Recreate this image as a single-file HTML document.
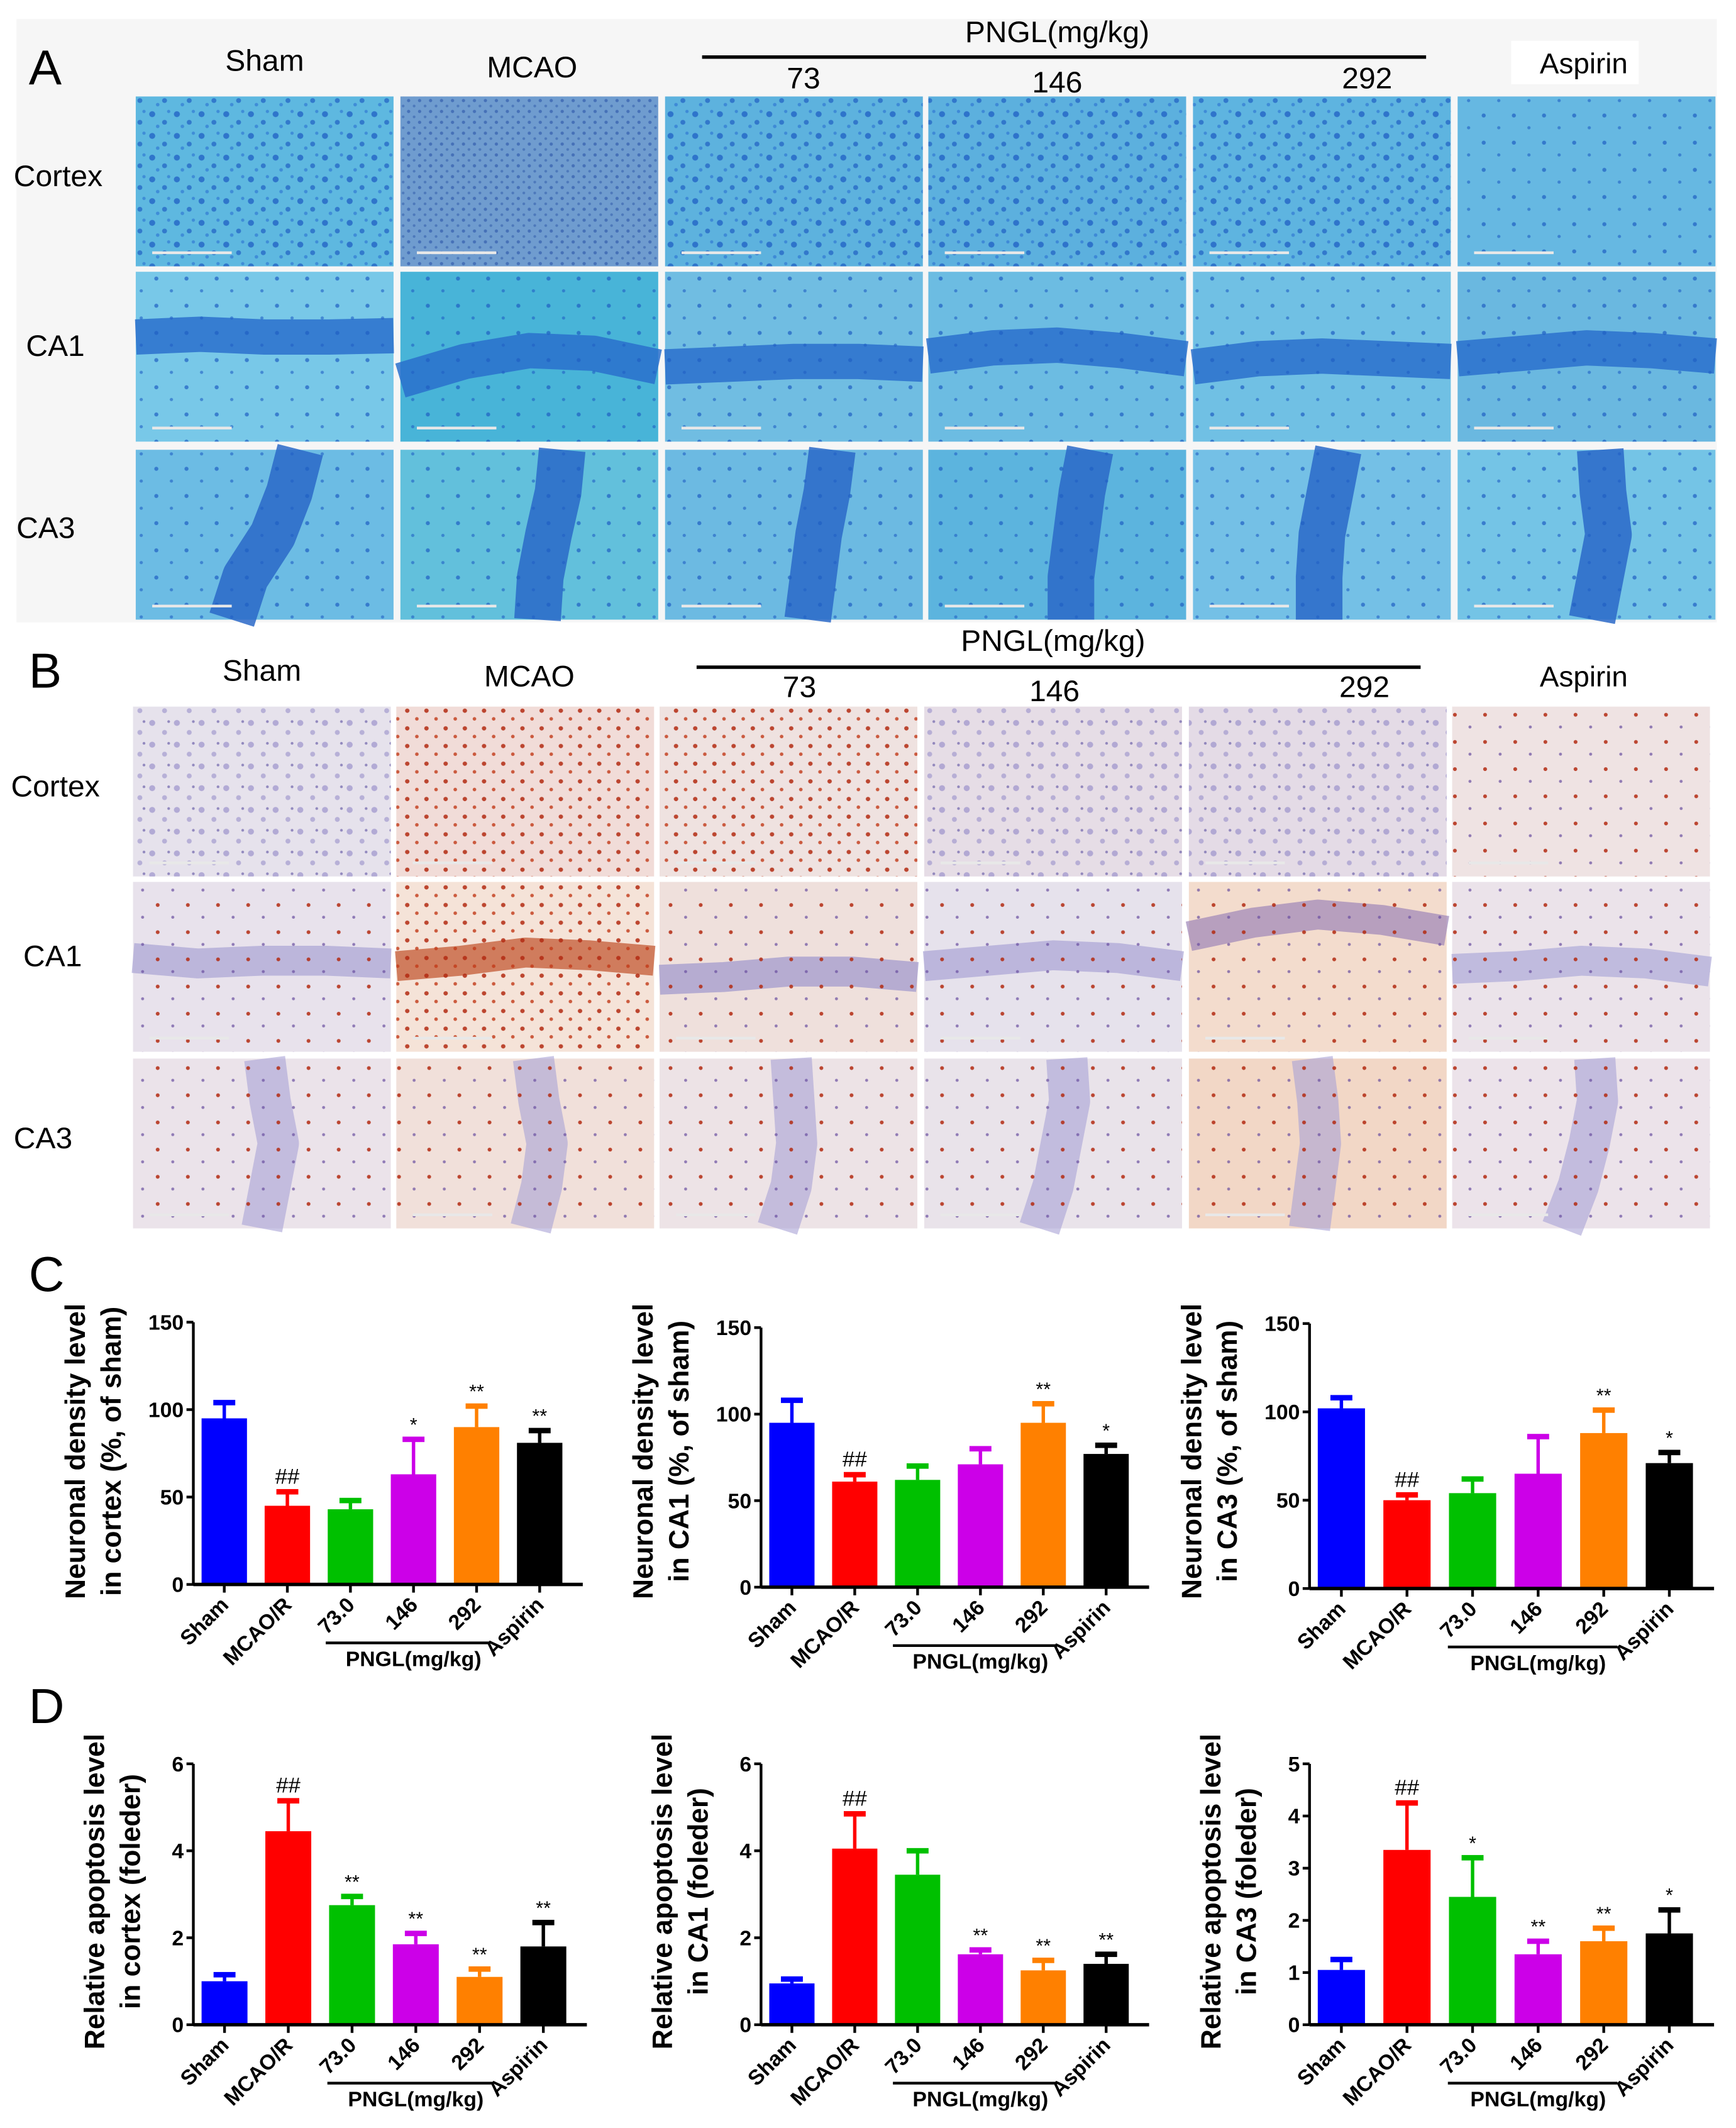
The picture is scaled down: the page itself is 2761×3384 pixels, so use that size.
<!DOCTYPE html>
<html><head><meta charset="utf-8">
<style>
html,body{margin:0;padding:0;background:#fff;}
svg{display:block;}
text{font-family:"Liberation Sans",Arial,sans-serif;}
</style></head>
<body>
<svg id="fig" width="2761" height="3384" viewBox="0 0 1266 1566" preserveAspectRatio="none" xmlns="http://www.w3.org/2000/svg">
<defs>
  <pattern id="pBlue" width="18" height="16" patternUnits="userSpaceOnUse">
    <circle cx="3" cy="4" r="2.2" fill="#1f5fc4" opacity="0.75"/>
    <circle cx="12" cy="10" r="1.8" fill="#1f5fc4" opacity="0.7"/>
    <circle cx="15" cy="2" r="1.2" fill="#2a6fd0" opacity="0.6"/>
    <circle cx="7" cy="13" r="1.3" fill="#2a6fd0" opacity="0.6"/>
  </pattern>
  <pattern id="pBlueDense" width="8" height="8" patternUnits="userSpaceOnUse">
    <circle cx="2" cy="2" r="1.2" fill="#2c55a8" opacity="0.6"/>
    <circle cx="6" cy="6" r="1" fill="#2c55a8" opacity="0.5"/>
  </pattern>
  <pattern id="pBlueSparse" width="22" height="20" patternUnits="userSpaceOnUse">
    <circle cx="4" cy="5" r="1.5" fill="#1f5fc4" opacity="0.7"/>
    <circle cx="15" cy="14" r="1.2" fill="#1f5fc4" opacity="0.6"/>
  </pattern>
  <pattern id="pPurple" width="18" height="16" patternUnits="userSpaceOnUse">
    <circle cx="3" cy="4" r="2.2" fill="#8f86c6" opacity="0.6"/>
    <circle cx="12" cy="11" r="1.8" fill="#8f86c6" opacity="0.55"/>
    <circle cx="15" cy="3" r="1" fill="#5a4fa0" opacity="0.6"/>
  </pattern>
  <pattern id="pRed" width="14" height="13" patternUnits="userSpaceOnUse">
    <circle cx="3" cy="3" r="1.6" fill="#b32a12" opacity="0.85"/>
    <circle cx="10" cy="9" r="1.3" fill="#c23a18" opacity="0.8"/>
  </pattern>
  <pattern id="pRedSparse" width="22" height="20" patternUnits="userSpaceOnUse">
    <circle cx="5" cy="6" r="1.4" fill="#b32a12" opacity="0.85"/>
    <circle cx="16" cy="15" r="1.1" fill="#6a4fa0" opacity="0.7"/>
  </pattern>
</defs>

<rect x="12" y="14" width="1240" height="444" fill="#f6f6f6"/>
<text x="21" y="62" font-size="36">A</text>
<text x="193" y="52" font-size="22" text-anchor="middle">Sham</text>
<text x="388" y="57" font-size="22" text-anchor="middle">MCAO</text>
<text x="771" y="31" font-size="22" text-anchor="middle">PNGL(mg/kg)</text>
<line x1="512" y1="42" x2="1040" y2="42" stroke="#000" stroke-width="2.5"/>
<text x="586" y="65" font-size="22" text-anchor="middle">73</text>
<text x="771" y="68" font-size="22" text-anchor="middle">146</text>
<text x="997" y="65" font-size="22" text-anchor="middle">292</text>
<rect x="1102" y="30" width="93" height="32" fill="#fff"/>
<text x="1155" y="54" font-size="21" text-anchor="middle">Aspirin</text>
<text x="10" y="137" font-size="22">Cortex</text>
<text x="19" y="262" font-size="22">CA1</text>
<text x="12" y="396" font-size="22">CA3</text>

<g id="gridA"></g>

<text x="21" y="506" font-size="36">B</text>
<text x="191" y="501" font-size="22" text-anchor="middle">Sham</text>
<text x="386" y="505" font-size="22" text-anchor="middle">MCAO</text>
<text x="768" y="479" font-size="22" text-anchor="middle">PNGL(mg/kg)</text>
<line x1="508" y1="491" x2="1036" y2="491" stroke="#000" stroke-width="2.5"/>
<text x="583" y="513" font-size="22" text-anchor="middle">73</text>
<text x="769" y="516" font-size="22" text-anchor="middle">146</text>
<text x="995" y="513" font-size="22" text-anchor="middle">292</text>
<text x="1155" y="505" font-size="21" text-anchor="middle">Aspirin</text>
<text x="8" y="586" font-size="22">Cortex</text>
<text x="17" y="711" font-size="22">CA1</text>
<text x="10" y="845" font-size="22">CA3</text>

<g id="gridB"></g>

<text x="21" y="950" font-size="36">C</text>
<text x="21" y="1268" font-size="36">D</text>

<g id="charts"></g>
</svg>

<script>
const groups = ["Sham","MCAO/R","73.0","146","292","Aspirin"];
const barColors = ["#0000ff","#ff0000","#00c000","#cc00e8","#ff8000","#000000"];

const cCortexMean = [95, 45, 43, 63, 90, 81];
const cCortexErr  = [104, 53, 48, 83, 102, 88];
const cCortexSig  = ["", "##", "", "*", "**", "**"];

const cCA1Mean = [95, 61, 62, 71, 95, 77];
const cCA1Err  = [108, 65, 70, 80, 106, 82];
const cCA1Sig  = ["", "##", "", "", "**", "*"];

const cCA3Mean = [102, 50, 54, 65, 88, 71];
const cCA3Err  = [108, 53, 62, 86, 101, 77];
const cCA3Sig  = ["", "##", "", "", "**", "*"];

const dCortexMean = [1.0, 4.45, 2.75, 1.85, 1.1, 1.8];
const dCortexErr  = [1.15, 5.15, 2.95, 2.1, 1.28, 2.35];
const dCortexSig  = ["", "##", "**", "**", "**", "**"];

const dCA1Mean = [0.95, 4.05, 3.45, 1.62, 1.25, 1.4];
const dCA1Err  = [1.05, 4.85, 4.0, 1.72, 1.48, 1.62];
const dCA1Sig  = ["", "##", "", "**", "**", "**"];

const dCA3Mean = [1.05, 3.35, 2.45, 1.35, 1.6, 1.75];
const dCA3Err  = [1.25, 4.25, 3.2, 1.6, 1.85, 2.2];
const dCA3Sig  = ["", "##", "*", "**", "**", "*"];

const cTicks = [0, 50, 100, 150];
const d6Ticks = [0, 2, 4, 6];
const d5Ticks = [0, 1, 2, 3, 4, 5];

const NS = "http://www.w3.org/2000/svg";
function mk(tag, attrs, parent) {
  const e = document.createElementNS(NS, tag);
  for (const k in attrs) e.setAttribute(k, attrs[k]);
  if (parent) parent.appendChild(e);
  return e;
}

const colsA = [99, 292, 485, 677, 870, 1063];
const rowsA = [71, 200, 331];
const colsB = [97, 289, 481, 674, 867, 1059];
const rowsB = [520, 649, 779];
const cellW = 188, cellH = 125;

function drawCell(g, x, y, bg, pat, name, extra) {
  const cg = mk("g", {}, g);
  
  
  mk("rect", {x:x, y:y, width:cellW, height:cellH, fill:bg}, cg);
  if (extra) extra(cg, x, y);
  mk("rect", {x:x, y:y, width:cellW, height:cellH, fill:"url(#"+pat+")"}, cg);
  mk("line", {x1:x+12, y1:y+cellH-10, x2:x+70, y2:y+cellH-10, stroke:"#e8e8e8", "stroke-width":2}, cg);
}
function hBand(color, w, ys, op) {
  return function(cg, x, y) {
    let d = "M" + x + " " + (y + ys[0]);
    const n = ys.length - 1;
    for (let i = 1; i <= n; i++) d += " L" + (x + cellW * i / n) + " " + (y + ys[i]);
    mk("path", {d:d, stroke:color, "stroke-width":w, fill:"none", opacity:op, "stroke-linejoin":"round"}, cg);
  };
}
function vBand(color, w, xs, op) {
  return function(cg, x, y) {
    let d = "M" + (x + xs[0]) + " " + y;
    const n = xs.length - 1;
    for (let i = 1; i <= n; i++) d += " L" + (x + xs[i]) + " " + (y + cellH * i / n);
    mk("path", {d:d, stroke:color, "stroke-width":w, fill:"none", opacity:op, "stroke-linejoin":"round"}, cg);
  };
}

const gA = document.getElementById("gridA");
const colNames = ["sham","mcao","pngl-73","pngl-146","pngl-292","aspirin"];
const aCortexBg = ["#5eb8e0","#6f9ccf","#5db2de","#5cb0de","#5eb4e0","#66b8e2"];
const aCortexPat = ["pBlue","pBlueDense","pBlue","pBlue","pBlue","pBlueSparse"];
const aCA1Bands = [[48,46,48,48,47],[80,66,58,60,70],[70,68,66,66,68],[62,56,54,58,64],[70,64,62,64,66],[64,60,56,58,62]];
const aCA1Bg = ["#78c8e8","#48b4d8","#70bde2","#6cbce2","#70c0e4","#6ab8e0"];
const aCA3Bands = [[120,112,100,80,70],[118,115,108,102,100],[122,118,112,108,104],[118,112,108,104,104],[106,100,94,92,92],[104,106,110,104,98]];
const aCA3Bg = ["#6cbce4","#62c0dc","#6cbae2","#5cb4de","#74c0e6","#74c4e6"];
for (let c = 0; c < 6; c++) {
  drawCell(gA, colsA[c], rowsA[0], aCortexBg[c], aCortexPat[c], "a-cortex-"+colNames[c]);
  drawCell(gA, colsA[c], rowsA[1], aCA1Bg[c], "pBlueSparse", "a-ca1-"+colNames[c], hBand("#2a70cc", 26, aCA1Bands[c], 0.85));
  drawCell(gA, colsA[c], rowsA[2], aCA3Bg[c], "pBlueSparse", "a-ca3-"+colNames[c], vBand("#2a68c8", 34, aCA3Bands[c], 0.85));
}

const gB = document.getElementById("gridB");
const bCortexBg = ["#e6e2ec","#f1dcd8","#efe2e0","#e6dde6","#e4dbe6","#efe3e3"];
const bCortexPat = ["pPurple","pRed","pRed","pPurple","pPurple","pRedSparse"];
const bCA1Bg = ["#e8e2ec","#f5e3d8","#efe0dc","#e6e2ec","#f3dccd","#ebe3ea"];
const bCA1Bands = [[56,60,58,58,60],[62,58,52,54,58],[72,70,66,66,70],[62,58,54,56,62],[40,30,24,28,36],[64,62,58,60,66]];
const bCA1Band = ["#aaa4d4","#c0502a","#9e96cc","#aaa4d6","#9c84b8","#aeaad8"];
const bCA3Bg = ["#ebe3ea","#f1e0da","#ede3e6","#e9e3ea","#f2d7c6","#ece3ea"];
const bCA3Bands = [[96,100,106,100,94],[100,104,110,106,98],[96,98,100,96,86],[104,106,100,94,84],[90,94,96,92,88],[104,106,100,92,80]];
for (let c = 0; c < 6; c++) {
  drawCell(gB, colsB[c], rowsB[0], bCortexBg[c], bCortexPat[c], "b-cortex-"+colNames[c]);
  drawCell(gB, colsB[c], rowsB[1], bCA1Bg[c], c === 1 ? "pRed" : "pRedSparse", "b-ca1-"+colNames[c], hBand(bCA1Band[c], 22, bCA1Bands[c], 0.7));
  drawCell(gB, colsB[c], rowsB[2], bCA3Bg[c], "pRedSparse", "b-ca3-"+colNames[c], vBand("#a8a2d6", 30, bCA3Bands[c], 0.6));
}

const chartsG = document.getElementById("charts");
function barChart(cfg, means, errs, sigs, ticks) {
  const g = mk("g", {}, chartsG);
  
  
  const ymax = ticks[ticks.length - 1];
  const yS = v => cfg.y0 - (v / ymax) * (cfg.y0 - cfg.yTop);
  const pitch = (cfg.xEnd - cfg.x0 - 8) / groups.length;
  const bw = pitch * 0.72;
  const xC = i => cfg.x0 + 6 + pitch * i + bw / 2;

  const ya = mk("line", {x1:cfg.x0, y1:cfg.yTop, x2:cfg.x0, y2:cfg.y0, stroke:"#000", "stroke-width":2}, g);
  
  
  ticks.forEach(t => {
    mk("line", {x1:cfg.x0 - 5, y1:yS(t), x2:cfg.x0, y2:yS(t), stroke:"#000", "stroke-width":2}, g);
    const tl = mk("text", {x:cfg.x0 - 7, y:yS(t) + 5.5, "font-size":15.5, "font-weight":"bold", "text-anchor":"end"}, g);
    tl.textContent = t;
    
    
  });
  const tt = mk("text", {transform:"translate(" + cfg.titleX + "," + cfg.titleY + ") rotate(-90)", "font-size":20.5, "font-weight":"bold", "text-anchor":"middle"}, g);
  
  
  const t1 = mk("tspan", {x:0, y:0}, tt); t1.textContent = cfg.title1;
  const t2 = mk("tspan", {x:0, y:26}, tt); t2.textContent = cfg.title2;

  means.forEach((m, i) => {
    const cx = xC(i);
    const b = mk("rect", {x:cx - bw / 2, y:yS(m), width:bw, height:cfg.y0 - yS(m), fill:barColors[i]}, g);
    
    
    const e = mk("line", {x1:cx, y1:yS(m), x2:cx, y2:yS(errs[i]), stroke:barColors[i], "stroke-width":2.5}, g);
    
    
    mk("rect", {x:cx - 8, y:yS(errs[i]) - 2, width:16, height:4, fill:barColors[i]}, g);
    if (sigs[i]) {
      const s = mk("text", {x:cx, y:yS(errs[i]) - 6, "font-size":sigs[i][0] === "#" ? 16 : 14, "text-anchor":"middle"}, g);
      s.textContent = sigs[i];
      
      
    }
    mk("line", {x1:cx, y1:cfg.y0, x2:cx, y2:cfg.y0 + 6, stroke:"#000", "stroke-width":2}, g);
    const xl = mk("text", {transform:"translate(" + (cx + 4) + "," + (cfg.y0 + 16) + ") rotate(-45)", "font-size":15.5, "font-weight":"bold", "text-anchor":"end"}, g);
    xl.textContent = groups[i];
    
    
  });
  const xa = mk("line", {x1:cfg.x0, y1:cfg.y0, x2:cfg.xEnd, y2:cfg.y0, stroke:"#000", "stroke-width":2.5}, g);
  
  
  const ly = cfg.y0 + 43;
  mk("line", {x1:xC(2) - 18, y1:ly, x2:xC(4) + 10, y2:ly, stroke:"#000", "stroke-width":2}, g);
  const pl = mk("text", {x:(xC(2) + xC(4)) / 2, y:ly + 17, "font-size":15.5, "font-weight":"bold", "text-anchor":"middle"}, g);
  pl.textContent = "PNGL(mg/kg)";
  
  
}

barChart({name:"chart-c-cortex", x0:141, y0:1166, yTop:973, xEnd:425, titleX:62, titleY:1068, title1:"Neuronal density level", title2:"in cortex (%, of sham)"}, cCortexMean, cCortexErr, cCortexSig, cTicks);
barChart({name:"chart-c-ca1", x0:555, y0:1168, yTop:977, xEnd:838, titleX:476, titleY:1068, title1:"Neuronal density level", title2:"in CA1 (%, of sham)"}, cCA1Mean, cCA1Err, cCA1Sig, cTicks);
barChart({name:"chart-c-ca3", x0:955, y0:1169, yTop:974, xEnd:1250, titleX:876, titleY:1068, title1:"Neuronal density level", title2:"in CA3 (%, of sham)"}, cCA3Mean, cCA3Err, cCA3Sig, cTicks);
barChart({name:"chart-d-cortex", x0:141, y0:1490, yTop:1298, xEnd:428, titleX:76, titleY:1392, title1:"Relative apoptosis level", title2:"in cortex (foleder)"}, dCortexMean, dCortexErr, dCortexSig, d6Ticks);
barChart({name:"chart-d-ca1", x0:555, y0:1490, yTop:1298, xEnd:838, titleX:490, titleY:1392, title1:"Relative apoptosis level", title2:"in CA1 (foleder)"}, dCA1Mean, dCA1Err, dCA1Sig, d6Ticks);
barChart({name:"chart-d-ca3", x0:955, y0:1490, yTop:1298, xEnd:1250, titleX:890, titleY:1392, title1:"Relative apoptosis level", title2:"in CA3 (foleder)"}, dCA3Mean, dCA3Err, dCA3Sig, d5Ticks);
</script>
</body></html>
